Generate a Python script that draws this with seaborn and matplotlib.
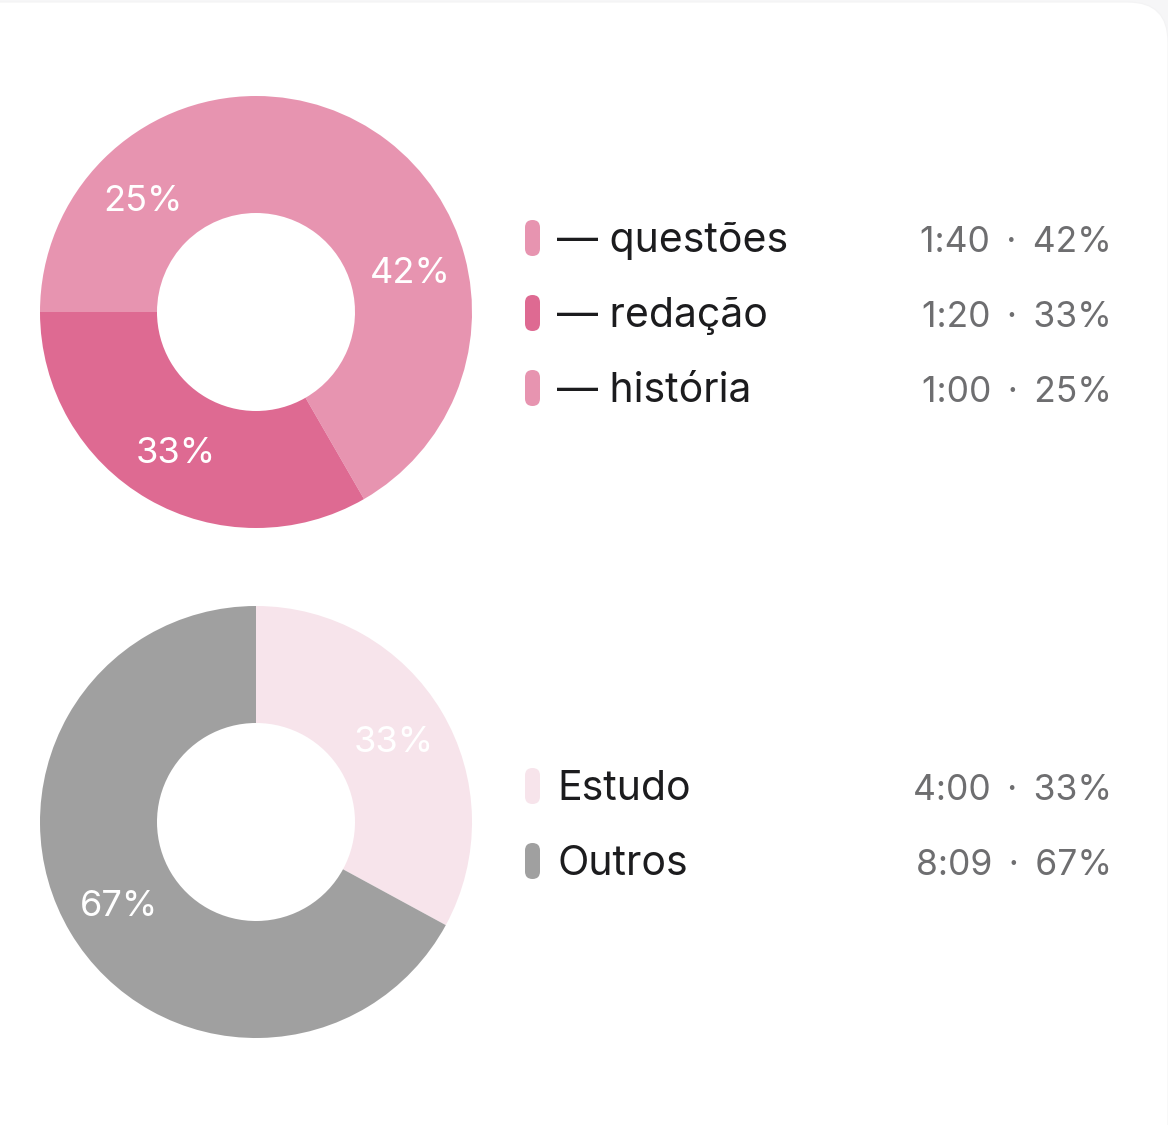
import matplotlib
matplotlib.use("Agg")
import matplotlib.pyplot as plt
from matplotlib.patches import FancyBboxPatch
import seaborn as sns

sns.set_theme(style="white")
plt.rcParams['font.family'] = ['Inter', 'DejaVu Sans']

# ---- data ----
top_labels = ["— questões", "— redação", "— história"]
top_minutes = [100, 80, 60]
top_times = ["1:40", "1:20", "1:00"]
top_colors = ["#E794B0", "#DE6A92", "#E794B0"]

bot_labels = ["Estudo", "Outros"]
bot_minutes = [240, 489]
bot_times = ["4:00", "8:09"]
bot_colors = ["#F7E4EB", "#A0A0A0"]

W, H = 1168, 1125
fig = plt.figure(figsize=(W / 100, H / 100), dpi=100)
fig.patch.set_facecolor("#F6F6F7")

# background card axes in pixel coordinates
bg = fig.add_axes([0, 0, 1, 1], zorder=0)
bg.set_xlim(0, W)
bg.set_ylim(H, 0)
bg.axis("off")
card = FancyBboxPatch((-60, 2), 1168 + 60, H + 60,
                      boxstyle="round,pad=0,rounding_size=40",
                      facecolor="white", edgecolor="#F3F3F4", linewidth=0.8)
bg.add_patch(card)

R_OUT, R_IN = 216, 99


def donut(cx, cy, values, colors):
    ax = fig.add_axes([(cx - R_OUT) / W, (H - cy - R_OUT) / H,
                       2 * R_OUT / W, 2 * R_OUT / H], zorder=2)
    wedges, texts, autotexts = ax.pie(
        values, colors=colors, startangle=90, counterclock=False,
        radius=1, autopct="%.0f%%", pctdistance=0.74,
        wedgeprops=dict(width=(R_OUT - R_IN) / R_OUT, linewidth=0),
        textprops=dict(color="white", fontsize=26))
    for t in autotexts:
        x, y = t.get_position()
        t.set_position((x, y - 0.012))
    ax.set_xlim(-1, 1)
    ax.set_ylim(-1, 1)
    ax.set_aspect("equal")
    ax.axis("off")
    return ax


donut(256, 312, top_minutes, top_colors)
donut(256, 822, bot_minutes, bot_colors)


def legend(rows_y, labels, times, minutes, colors):
    total = sum(minutes)
    for y, lab, t, m, c in zip(rows_y, labels, times, minutes, colors):
        pill = FancyBboxPatch((525, y - 32), 15, 36,
                              boxstyle="round,pad=0,rounding_size=7.5",
                              facecolor=c, edgecolor="none")
        bg.add_patch(pill)
        bg.text(557, y, lab, fontsize=29.5, color="#1C1C1E",
                ha="left", va="baseline")
        bg.text(1112, y, f"{t} \u2009·\u2009 {round(100 * m / total)}%",
                fontsize=25.5, color="#6E6E70", ha="right", va="baseline")


legend([252, 327, 402], top_labels, top_times, top_minutes, top_colors)
legend([800, 875], bot_labels, bot_times, bot_minutes, bot_colors)

fig.savefig("out.png", dpi=100, facecolor=fig.get_facecolor())
